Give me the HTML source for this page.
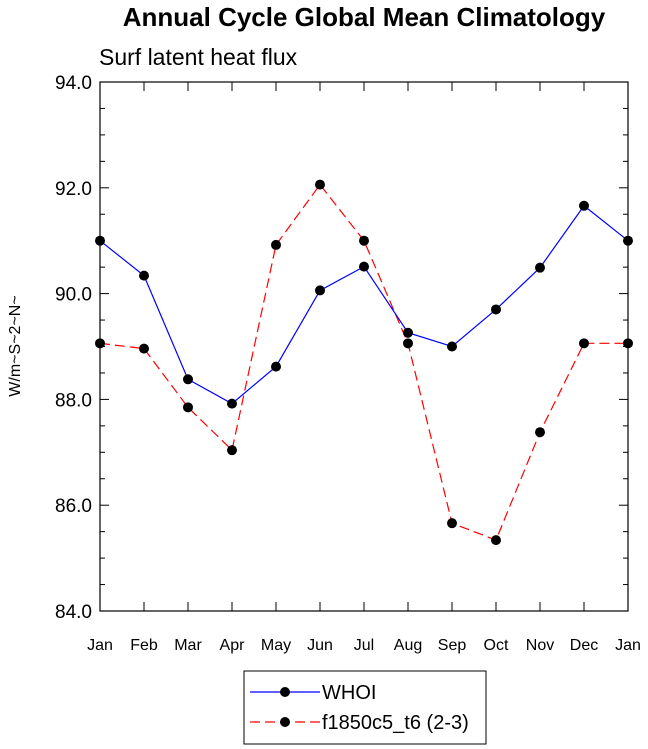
<!DOCTYPE html>
<html><head><meta charset="utf-8"><style>
body{margin:0;background:#fff;}
svg{display:block;font-family:"Liberation Sans",Arial,sans-serif;}
</style></head><body>
<svg id="chart" width="648" height="749" viewBox="0 0 648 749" xmlns="http://www.w3.org/2000/svg">
<text x="364" y="26" text-anchor="middle" font-size="26" font-weight="bold">Annual Cycle Global Mean Climatology</text>
<text x="99" y="65" font-size="23">Surf latent heat flux</text>
<text transform="translate(20,346) rotate(-90)" text-anchor="middle" font-size="16">W/m~S~2~N~</text>
<g id="axes"></g>
<g id="series"></g>
<g>
<rect x="244" y="671" width="242" height="73" fill="none" stroke="#000" stroke-width="1"/>
<line x1="250" y1="692" x2="320" y2="692" stroke="#0000ff" stroke-width="1.2"/>
<circle cx="285" cy="692" r="5" fill="#000"/>
<text x="322" y="699" font-size="20">WHOI</text>
<line x1="250" y1="722" x2="320" y2="722" stroke="#ff0000" stroke-width="1.2" stroke-dasharray="10,5"/>
<circle cx="285" cy="722" r="5" fill="#000"/>
<text x="322" y="729" font-size="20">f1850c5_t6 (2-3)</text>
</g>
</svg>
<script>
const months=["Jan","Feb","Mar","Apr","May","Jun","Jul","Aug","Sep","Oct","Nov","Dec","Jan"];
const whoi=[91.0,90.34,88.38,87.92,88.62,90.06,90.51,89.26,89.0,89.70,90.49,91.66,91.0];
const f1850=[89.06,88.96,87.85,87.04,90.92,92.06,91.0,89.06,85.66,85.34,87.38,89.06,89.06];
const yTicks=[84,86,88,90,92,94];
const NS="http://www.w3.org/2000/svg";
const L=100,R=628,T=82,B=611,ymin=84,ymax=94;
const xs=i=>L+i*(R-L)/(months.length-1);
const ys=v=>B-(v-ymin)/(ymax-ymin)*(B-T);
function mk(tag,attrs,parent){const e=document.createElementNS(NS,tag);for(const k in attrs)e.setAttribute(k,attrs[k]);parent.appendChild(e);return e;}
const ax=document.getElementById('axes');
const frame=mk('rect',{x:L,y:T,width:R-L,height:B-T,fill:'none',stroke:'#000','stroke-width':1.2},ax);


months.forEach((m,i)=>{
  const x=xs(i);
  mk('line',{x1:x,y1:B,x2:x,y2:B-9,stroke:'#000'},ax);
  mk('line',{x1:x,y1:T,x2:x,y2:T+9,stroke:'#000'},ax);
  const t=mk('text',{x:x,y:B+39,'text-anchor':'middle','font-size':16},ax);
  t.textContent=m;
  
  
});
for(let v=ymin;v<=ymax+1e-9;v+=0.5){
  const y=ys(v);const major=Math.abs(v-Math.round(v/2)*2)<1e-6;
  const len=major?9:5;
  mk('line',{x1:L,y1:y,x2:L+len,y2:y,stroke:'#000'},ax);
  mk('line',{x1:R,y1:y,x2:R-len,y2:y,stroke:'#000'},ax);
}
yTicks.forEach(v=>{
  const t=mk('text',{x:L-8,y:ys(v)+7,'text-anchor':'end','font-size':19},ax);
  t.textContent=v.toFixed(1);
  
  
});
const sg=document.getElementById('series');
function draw(vals,color,dash,name){
  const p=mk('polyline',{points:vals.map((v,i)=>xs(i)+','+ys(v)).join(' '),fill:'none',stroke:color,'stroke-width':1.2},sg);
  if(dash)p.setAttribute('stroke-dasharray',dash);
  
  
  vals.forEach((v,i)=>{
    const c=mk('circle',{cx:xs(i),cy:ys(v),r:5,fill:'#000'},sg);
    
    
  });
}
draw(f1850,'#ff0000','10,5','f1850c5');
draw(whoi,'#0000ff',null,'whoi');
</script>
</body></html>
